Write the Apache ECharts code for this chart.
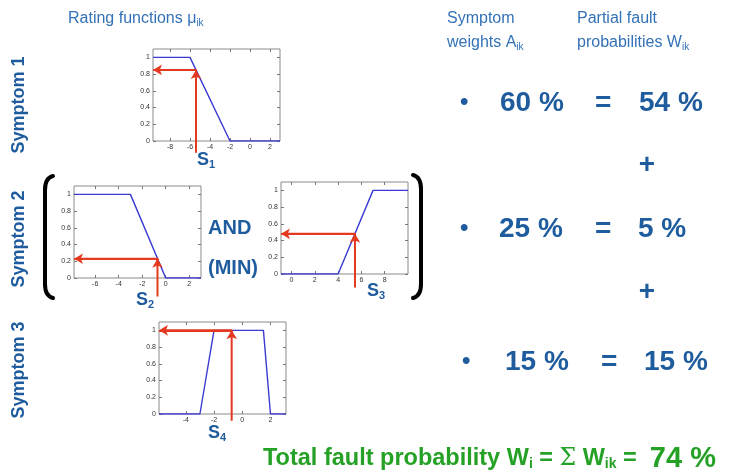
<!DOCTYPE html>
<html>
<head>
<meta charset="utf-8">
<script src="https://cdn.jsdelivr.net/npm/echarts@6/dist/echarts.min.js"></script>
<style>
  html, body { margin: 0; padding: 0; background: #fff; }
  #chart { width: 744px; height: 474px; }
</style>
</head>
<body>
<div id="chart"></div>
<script>
// rating functions mu_ik, one per sensor (x breakpoints / mu values)
var mu1X = [-9.7, -6, -2, 3];
var mu1Y = [1, 1, 0, 0];
var mu2X = [-7.8, -3, 0, 3];
var mu2Y = [1, 1, 0, 0];
var mu3X = [-0.9, 4, 7, 10];
var mu3Y = [0, 0, 1, 1];
var mu4X = [-5.9, -3, -2, 1.5, 2, 3.1];
var mu4Y = [0, 0, 1, 1, 0, 0];

// measured values s1..s4 and their rating
var sensorX = [-5.4, -0.7, 5.45, -0.75];
var sensorMu = [0.85, 0.23, 0.48, 1];
var arrowFrom = [-0.14, -0.22, -0.16, -0.08];

var xRange = [[-9.7, 3], [-7.8, 3], [-0.9, 10], [-5.9, 3.1]];
var xTicks = [[-8, -6, -4, -2, 0, 2], [-6, -4, -2, 0, 2], [0, 2, 4, 6, 8], [-4, -2, 0, 2]];
var yTicks = [0, 0.2, 0.4, 0.6, 0.8, 1];

var symptoms = ['Symptom 1', 'Symptom 2', 'Symptom 3'];
var weights = ['60 %', '25 %', '15 %'];
var partial = ['54 %', '5 %', '15 %'];
var total = '74 %';

var BLUE = '#1f5c9e';
var HEAD = '#3472b8';
var GREEN = '#25a225';
var RED = '#e5391f';
var FONT = '"Liberation Sans", Arial, sans-serif';

var curves = [[mu1X, mu1Y], [mu2X, mu2Y], [mu3X, mu3Y], [mu4X, mu4Y]];
var boxes = [[153, 49], [74, 186], [281, 182], [159, 322]];

var grids = [], xAxes = [], yAxes = [], series = [];
var tickStyle = { color: '#777' };
curves.forEach(function (c, i) {
  grids.push({
    left: boxes[i][0], top: boxes[i][1], width: 127, height: 92,
    show: true, borderColor: '#8a8a8a', borderWidth: 1, backgroundColor: '#fff'
  });
  xAxes[i] = {
    gridIndex: i, type: 'value', position: 'bottom', min: xRange[i][0], max: xRange[i][1],
    axisLine: { show: false, onZero: false },
    splitLine: { show: false },
    axisTick: { show: true, inside: true, length: 3, customValues: xTicks[i], lineStyle: tickStyle },
    axisLabel: { customValues: xTicks[i], fontSize: 7, color: '#333', margin: 3, fontFamily: FONT }
  };
  xAxes[i + 4] = {
    gridIndex: i, type: 'value', position: 'top', min: xRange[i][0], max: xRange[i][1],
    axisLine: { show: false, onZero: false },
    splitLine: { show: false },
    axisTick: { show: true, inside: true, length: 3, customValues: xTicks[i], lineStyle: tickStyle },
    axisLabel: { show: false }
  };
  yAxes[i] = {
    gridIndex: i, type: 'value', position: 'left', min: 0, max: 1.1,
    axisLine: { show: false, onZero: false },
    splitLine: { show: false },
    axisTick: { show: true, inside: true, length: 3, customValues: yTicks, lineStyle: tickStyle },
    axisLabel: { customValues: yTicks, fontSize: 7, color: '#333', margin: 3, fontFamily: FONT }
  };
  yAxes[i + 4] = {
    gridIndex: i, type: 'value', position: 'right', min: 0, max: 1.1,
    axisLine: { show: false, onZero: false },
    splitLine: { show: false },
    axisTick: { show: true, inside: true, length: 3, customValues: yTicks, lineStyle: tickStyle },
    axisLabel: { show: false }
  };
  var s = sensorX[i], m = sensorMu[i];
  // rating curve
  series.push({
    type: 'line', xAxisIndex: i, yAxisIndex: i,
    data: c[0].map(function (x, k) { return [x, c[1][k]]; }),
    symbol: 'none', animation: false, z: 3,
    lineStyle: { color: '#3a3ad2', width: 1.4 }
  });
  // red reading path: from below the axis up to the curve, then left to the mu axis
  series.push({
    type: 'line', xAxisIndex: i, yAxisIndex: i,
    data: [[s, arrowFrom[i]], [s, m], [xRange[i][0] + 0.35, m]],
    symbol: 'none', clip: false, animation: false, z: 4,
    lineStyle: { color: RED, width: 2 },
    markLine: {
      silent: true, animation: false,
      symbol: ['none', 'arrow'], symbolSize: [8, 9],
      label: { show: false },
      lineStyle: { color: RED, width: 2, type: 'solid' },
      data: [
        [{ coord: [s, m - 0.05] }, { coord: [s, m] }],
        [{ coord: [s, m] }, { coord: [xRange[i][0], m] }]
      ]
    }
  });
});

function sub(size, pad, fill, weight) {
  return { fontSize: size, fontFamily: FONT, padding: [pad, 0, 0, 0], fill: fill, fontWeight: weight || 'normal' };
}

var graphic = [];
function txt(x, y, text, style) {
  graphic.push({
    type: 'text', x: x, y: y, silent: true,
    style: Object.assign({ text: text, fontFamily: FONT, verticalAlign: 'middle', align: 'left' }, style)
  });
}

// headers
txt(68, 19, '{a|Rating functions \u03bc}{s|ik}', {
  rich: { a: { fontSize: 16, fill: HEAD, fontFamily: FONT }, s: sub(10, 9, HEAD) }
});
txt(447, 19, 'Symptom', { fontSize: 16, fill: HEAD });
txt(447, 43, '{a|weights A}{s|ik}', {
  rich: { a: { fontSize: 16, fill: HEAD, fontFamily: FONT }, s: sub(10, 9, HEAD) }
});
txt(577, 19, 'Partial fault', { fontSize: 16, fill: HEAD });
txt(577, 43, '{a|probabilities W}{s|ik}', {
  rich: { a: { fontSize: 16, fill: HEAD, fontFamily: FONT }, s: sub(10, 9, HEAD) }
});

// symptom labels (vertical)
var symY = [105, 239, 370];
symptoms.forEach(function (t, i) {
  graphic.push({
    type: 'text', x: 19, y: symY[i], rotation: Math.PI / 2, silent: true,
    style: { text: t, fontFamily: FONT, fontSize: 18, fontWeight: 'bold', fill: BLUE, align: 'center', verticalAlign: 'middle' }
  });
});

// S labels under the arrows
var sPos = [[197, 160], [136, 300], [367, 291], [208, 433]];
sPos.forEach(function (p, i) {
  txt(p[0], p[1], '{a|S}{s|' + (i + 1) + '}', {
    rich: { a: { fontSize: 18, fontWeight: 'bold', fill: BLUE, fontFamily: FONT }, s: sub(11, 9, BLUE, 'bold') }
  });
});

// AND (MIN)
txt(208, 228, 'AND', { fontSize: 20, fontWeight: 'bold', fill: BLUE });
txt(208, 268, '(MIN)', { fontSize: 20, fontWeight: 'bold', fill: BLUE });

// brackets
function bracket(xo, xi, y0, y1) {
  var st = { stroke: '#000', lineWidth: 4, fill: null, lineCap: 'round' };
  graphic.push({ type: 'bezierCurve', silent: true, shape: { x1: xi, y1: y0, x2: xo, y2: y0 + 14, cpx1: xo, cpy1: y0 + 2 }, style: st });
  graphic.push({ type: 'line', silent: true, shape: { x1: xo, y1: y0 + 14, x2: xo, y2: y1 - 14 }, style: st });
  graphic.push({ type: 'bezierCurve', silent: true, shape: { x1: xo, y1: y1 - 14, x2: xi, y2: y1, cpx1: xo, cpy1: y1 - 2 }, style: st });
}
bracket(45, 53, 176, 298);
bracket(421, 413, 175, 298);

// weights and partial probabilities
var rowY = [103, 229, 362];
var wX = [500, 499, 505], eqX = [595, 595, 601], pX = [639, 638, 644], bX = [460, 460, 462];
weights.forEach(function (w, i) {
  txt(bX[i], rowY[i] - 1, '\u2022', { fontSize: 24, fontWeight: 'bold', fill: BLUE });
  txt(wX[i], rowY[i], w, { fontSize: 28, fontWeight: 'bold', fill: BLUE });
  txt(eqX[i], rowY[i], '=', { fontSize: 28, fontWeight: 'bold', fill: BLUE });
  txt(pX[i], rowY[i], partial[i], { fontSize: 28, fontWeight: 'bold', fill: BLUE });
});
[165, 292].forEach(function (y) {
  txt(647, y, '+', { fontSize: 28, fontWeight: 'bold', fill: BLUE, align: 'center' });
});

// total
txt(263, 459, '{t|Total fault probability W}{s|i}{t| = }{g|\u03a3}{t| W}{s|ik}{t| =  }{b|' + total + '}', {
  rich: {
    t: { fontSize: 23.5, fontWeight: 'bold', fill: GREEN, fontFamily: FONT },
    g: { fontSize: 23.5, fill: GREEN, fontFamily: '"DejaVu Serif", serif' },
    s: sub(14, 10, GREEN, 'bold'),
    b: { fontSize: 29, fontWeight: 'bold', fill: GREEN, fontFamily: FONT }
  }
});

var chart = echarts.init(document.getElementById('chart'));
chart.setOption({
  animation: false,
  backgroundColor: '#fff',
  grid: grids,
  xAxis: xAxes,
  yAxis: yAxes,
  series: series,
  graphic: graphic
});
</script>
</body>
</html>
